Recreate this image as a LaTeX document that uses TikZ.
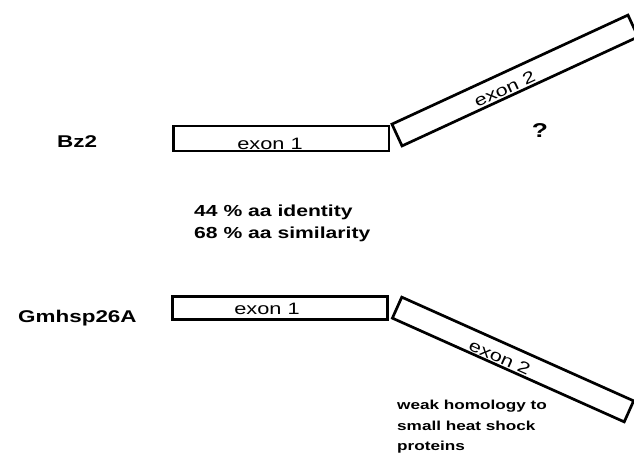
\documentclass[tikz,border=0pt]{standalone}
\usepackage{fontspec}
\setmainfont{Liberation Sans}[FakeStretch=1.32]
\begin{document}
\begin{tikzpicture}[x=1pt,y=-1pt,
  exonbox/.style={draw, line width=2.7pt, inner sep=0pt, outer sep=0pt, font=\fontsize{16.5}{19}\selectfont},
  genename/.style={font=\fontsize{17}{19}\selectfont\bfseries, inner sep=0pt, anchor=base west},
  exonlab/.style={font=\fontsize{16.5}{19}\selectfont, inner sep=0pt},
  note/.style={font=\fontsize{16}{19}\selectfont\bfseries, inner sep=0pt, anchor=base west},
  smallnote/.style={font=\fontsize{13}{20.5}\selectfont\bfseries, inner sep=0pt, align=left, anchor=north west}]
\useasboundingbox (0,0) rectangle (634,456);
\clip (0,0) rectangle (634,456);

% Bz2
\node[genename] (bz2) at (57,147) {Bz2};
\node[exonbox, minimum width=215.5pt, minimum height=25pt] (bzexA) at (281.25,138.5) {};
\node[exonlab, anchor=base] (bzexAlab) at (270,149.5) {exon 1};
\node[exonbox, rotate=24.8, minimum width=260pt, minimum height=24pt] (bzexB) at (515,80.5)
  {\hspace*{-26pt}\raisebox{-9pt}[0pt][0pt]{exon 2}};
\node[font=\fontsize{20}{22}\selectfont\bfseries, inner sep=0pt] (qm) at (540,131) {?};

% similarity
\node[note] (ident) at (194,216) {44 \% aa identity};
\node[note] (simil) at (194,238) {68 \% aa similarity};

% Gmhsp26A
\node[genename] (gm) at (18,322) {Gmhsp26A};
\node[exonbox, minimum width=215pt, minimum height=23pt] (gmexA) at (280,308) {};
\node[exonlab, anchor=base] (gmexAlab) at (267,314) {exon 1};
\node[exonbox, rotate=-24.1, minimum width=254pt, minimum height=23pt] (gmexB) at (513,359.5)
  {\hspace*{-26pt}\raisebox{-9pt}[0pt][0pt]{exon 2}};
\node[smallnote] (weak) at (397,400) {weak homology to\\small heat shock\\proteins};
\end{tikzpicture}
\end{document}
